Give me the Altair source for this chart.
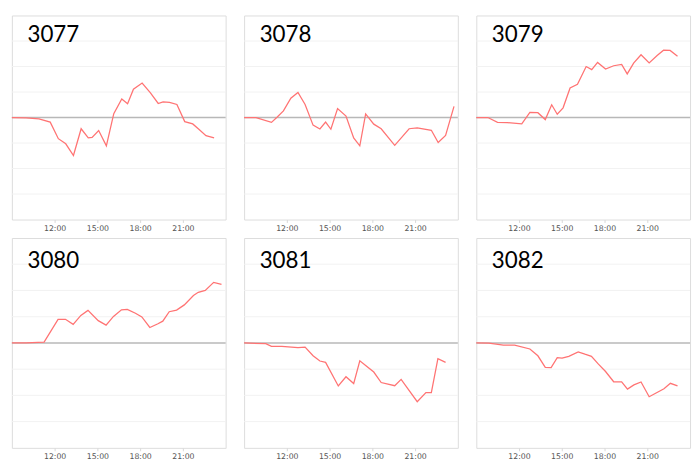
import altair as alt
import pandas as pd

names = ["3077", "3078", "3079", "3080", "3081", "3082"]

hours_3077 = [9.0, 10.0, 10.9, 11.69, 12.26, 12.78, 13.32, 13.86, 14.36, 14.63, 15.09, 15.63, 16.15, 16.71,
              17.12, 17.53, 18.14, 18.71, 19.27, 19.61, 20.06, 20.58, 21.13, 21.69, 22.1, 22.62, 23.19]
vals_3077 = [0.0, -0.01, -0.05, -0.18, -0.83, -1.03, -1.49, -0.44, -0.8, -0.78, -0.51, -1.11, 0.15, 0.73,
             0.54, 1.11, 1.35, 0.98, 0.55, 0.61, 0.59, 0.51, -0.16, -0.25, -0.45, -0.71, -0.8]

hours_3078 = [9.0, 9.84, 10.92, 11.31, 11.76, 12.28, 12.78, 13.28, 13.84, 14.32, 14.72, 15.09, 15.56, 16.15,
              16.69, 17.12, 17.53, 18.1, 18.62, 19.57, 20.58, 21.15, 22.14, 22.62, 23.14, 23.73]
vals_3078 = [0.0, 0.0, -0.19, 0.01, 0.26, 0.76, 0.98, 0.51, -0.3, -0.45, -0.18, -0.46, 0.35, 0.06,
             -0.8, -1.11, 0.14, -0.26, -0.44, -1.09, -0.44, -0.41, -0.5, -0.98, -0.7, 0.44]

hours_3079 = [9.0, 9.81, 10.49, 11.17, 12.19, 12.76, 13.32, 13.84, 14.29, 14.68, 15.09, 15.58, 16.1, 16.71,
              17.1, 17.51, 18.07, 18.64, 19.2, 19.59, 20.04, 20.56, 21.13, 21.69, 22.14, 22.6, 23.12]
vals_3079 = [0.0, 0.0, -0.19, -0.2, -0.25, 0.2, 0.19, -0.08, 0.5, 0.13, 0.38, 1.16, 1.3, 2.0,
             1.88, 2.16, 1.9, 2.03, 2.08, 1.71, 2.13, 2.46, 2.14, 2.43, 2.64, 2.63, 2.4]

hours_3080 = [9.0, 10.0, 11.26, 12.24, 12.76, 13.3, 13.84, 14.34, 15.06, 15.61, 16.13, 16.69, 17.1, 17.67,
              18.12, 18.68, 19.25, 19.59, 20.04, 20.56, 21.1, 21.74, 22.08, 22.57, 23.16, 23.71]
vals_3080 = [0.0, 0.0, 0.03, 0.9, 0.9, 0.71, 1.05, 1.24, 0.85, 0.68, 1.01, 1.26, 1.28, 1.13,
             0.99, 0.59, 0.73, 0.83, 1.19, 1.25, 1.45, 1.81, 1.93, 2.0, 2.31, 2.23]

hours_3081 = [9.0, 10.52, 10.92, 11.65, 12.78, 13.28, 13.84, 14.32, 14.72, 15.61, 16.15, 16.69, 17.12,
              17.53, 18.1, 18.62, 19.57, 20.02, 21.15, 21.76, 22.14, 22.6, 23.14]
vals_3081 = [0.0, -0.03, -0.13, -0.13, -0.18, -0.16, -0.49, -0.69, -0.74, -1.64, -1.29, -1.55, -0.68,
             -0.86, -1.11, -1.51, -1.63, -1.39, -2.24, -1.89, -1.89, -0.6, -0.74]

hours_3082 = [9.0, 9.88, 10.9, 11.69, 12.76, 13.32, 13.84, 14.25, 14.68, 15.02, 15.49, 16.15, 16.62, 17.08,
              17.57, 18.07, 18.64, 19.2, 19.61, 20.06, 20.56, 21.13, 21.65, 22.17, 22.62, 23.12]
vals_3082 = [0.0, -0.01, -0.08, -0.08, -0.23, -0.49, -0.93, -0.94, -0.56, -0.58, -0.51, -0.34, -0.43, -0.51,
             -0.81, -1.09, -1.48, -1.48, -1.76, -1.6, -1.49, -2.05, -1.9, -1.75, -1.54, -1.64]

series = {
    "3077": (hours_3077, vals_3077),
    "3078": (hours_3078, vals_3078),
    "3079": (hours_3079, vals_3079),
    "3080": (hours_3080, vals_3080),
    "3081": (hours_3081, vals_3081),
    "3082": (hours_3082, vals_3082),
}

x_ticks = [12, 15, 18, 21]
y_grid = [-3, -2, -1, 1, 2, 3]
y_domain = [-4, 4]


def panel(name, height, label_y):
    hrs, vals = series[name]
    df = pd.DataFrame({"h": hrs, "v": vals})
    yscale = alt.Scale(domain=y_domain, nice=False)
    xenc = alt.X(
        "h:Q",
        scale=alt.Scale(domain=[9, 24], nice=False, zero=False),
        axis=alt.Axis(values=x_ticks, labelExpr="datum.value + ':00'", grid=False, domain=False,
                      ticks=True, tickSize=3, tickColor="#d8d8d8", labelFontSize=8,
                      labelFont="DejaVu Sans", labelColor="#555555", labelPadding=2, title=None),
    )
    grid = alt.Chart(pd.DataFrame({"v": y_grid})).mark_rule(color="#f2f2f2", strokeWidth=1).encode(
        y=alt.Y("v:Q", scale=yscale, axis=None))
    zero = alt.Chart(pd.DataFrame({"v": [0]})).mark_rule(color="#b8b8b8", strokeWidth=1.5).encode(
        y=alt.Y("v:Q", scale=yscale, axis=None))
    line = alt.Chart(df).mark_line(color="#ff7373", strokeWidth=1.3).encode(
        x=xenc, y=alt.Y("v:Q", scale=yscale, axis=None))
    label = alt.Chart(pd.DataFrame({"name": [name]})).mark_text(
        align="left", baseline="alphabetic", fontSize=23, font="Lato", color="black"
    ).encode(x=alt.value(16), y=alt.value(label_y), text="name:N")
    return alt.layer(grid, zero, line, label).properties(width=220, height=height)


row1 = alt.hconcat(*[panel(n, 210, 27) for n in names[:3]], spacing=13)
row2 = alt.hconcat(*[panel(n, 216, 31) for n in names[3:]], spacing=13)
chart = (
    alt.vconcat(row1, row2, spacing=4)
    .properties(padding=0)
    .configure_view(stroke="#dcdcdc", strokeWidth=1)
)

chart.save("out.html", embed_options={"renderer": "svg", "actions": False})
